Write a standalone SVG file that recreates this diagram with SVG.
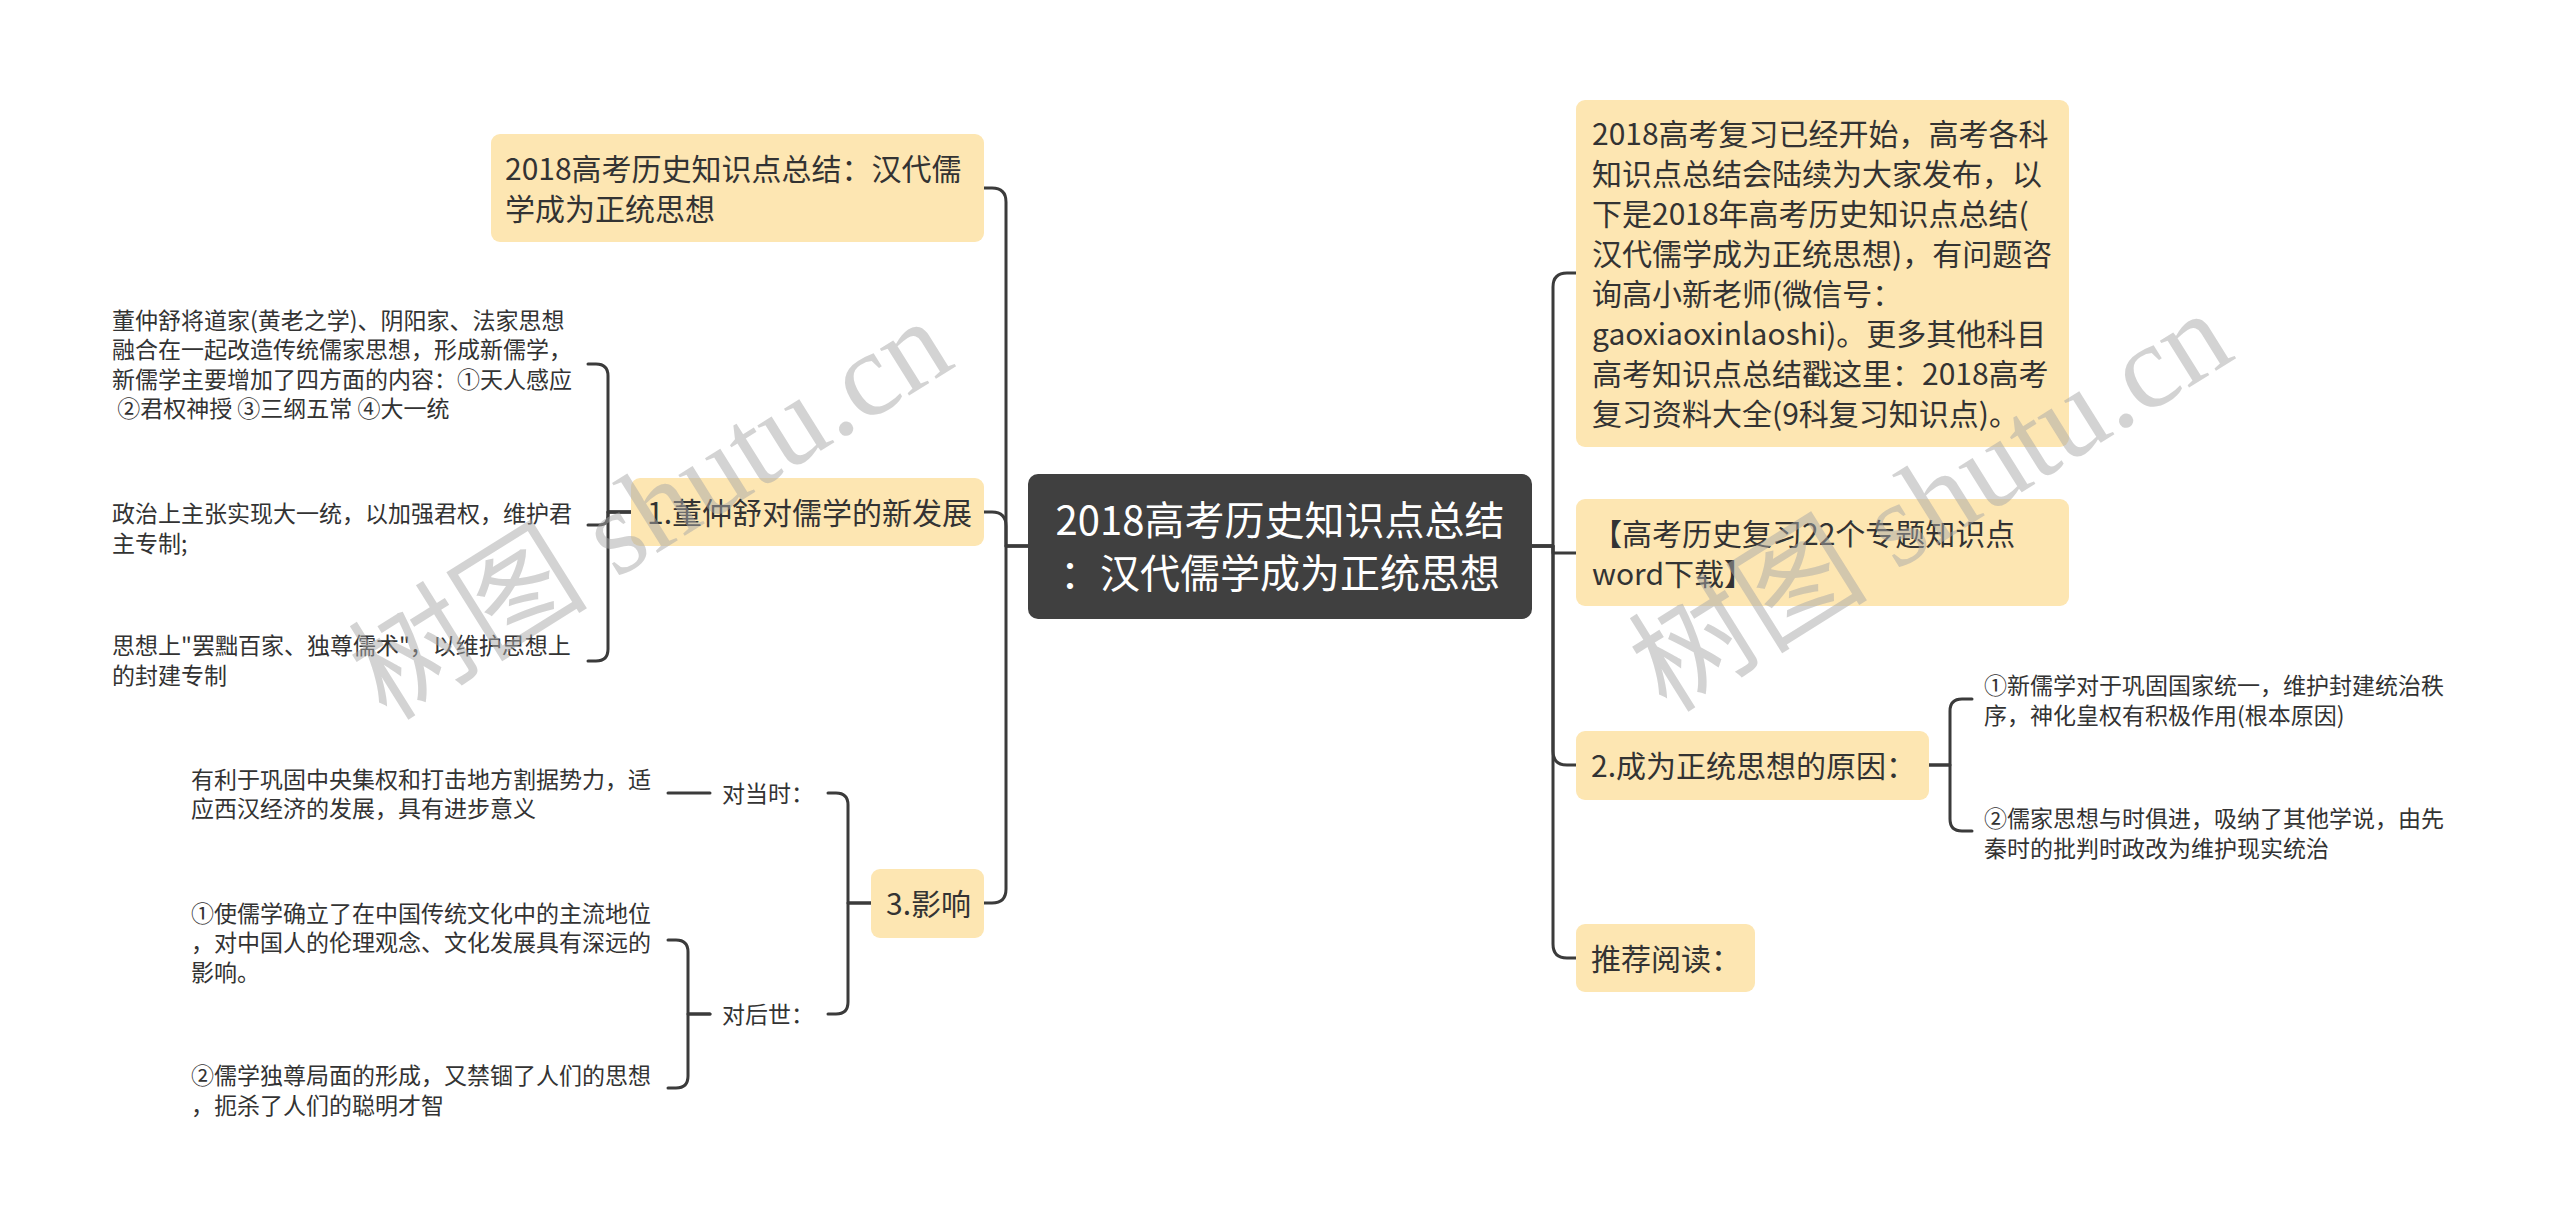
<svg xmlns="http://www.w3.org/2000/svg" width="2560" height="1230" viewBox="0 0 2560 1230">
<style>
  .bg { fill:#ffffff; }
  .box { fill:#fde6b2; }
  .root { fill:#404040; }
  text { font-family:"Noto Sans CJK SC","Liberation Sans",sans-serif; fill:#333333; white-space:pre; }
  .t30 { font-size:30px; }
  .t23 { font-size:23px; }
  .t40 { font-size:40px; fill:#ffffff; }
  .conn path { fill:none; stroke:#3b3b3b; stroke-width:3; stroke-linecap:round; stroke-linejoin:round; }
  .wm { font-family:"Liberation Serif","Noto Sans CJK SC",serif; font-size:120px; fill:#a8a8a8; fill-opacity:0.5; }
</style>
<rect class="bg" x="0" y="0" width="2560" height="1230"/>

<g id="connectors" class="conn">
  <!-- left trunk -->
  <path d="M1028 546 H1006 V202 Q1006 188 992 188 H984"/>
  <path d="M1028 546 H1006 V526 Q1006 512 992 512 H984"/>
  <path d="M1028 546 H1006 V889 Q1006 903 992 903 H984"/>
  <!-- right trunk -->
  <path d="M1532 546 H1553 V287 Q1553 273 1567 273 H1576"/>
  <path d="M1532 546 H1553 V553 H1576"/>
  <path d="M1532 546 H1553 V751 Q1553 765 1567 765 H1576"/>
  <path d="M1532 546 H1553 V944 Q1553 958 1567 958 H1576"/>
  <!-- node 1 bracket -->
  <path d="M631 512 H608 V376 Q608 364 596 364 H588"/>
  <path d="M631 512 H608 V516 Q608 525 599 525 H588"/>
  <path d="M631 512 H608 V649 Q608 661 596 661 H588"/>
  <!-- node 3 bracket -->
  <path d="M871 903 H848 V805 Q848 793 836 793 H828"/>
  <path d="M871 903 H848 V1002 Q848 1014 836 1014 H828"/>
  <path d="M710 793 H668"/>
  <path d="M710 1014 H688 V952 Q688 940 676 940 H668"/>
  <path d="M710 1014 H688 V1076 Q688 1088 676 1088 H668"/>
  <!-- node 2 bracket -->
  <path d="M1929 765 H1950 V711 Q1950 699 1962 699 H1972"/>
  <path d="M1929 765 H1950 V819 Q1950 831 1962 831 H1972"/>
</g>

<g id="root">
  <rect class="root" x="1028" y="474" width="504" height="145" rx="10"/>
  <text class="t40" x="1280" y="534.5" text-anchor="middle">2018高考历史知识点总结</text>
  <text class="t40" x="1280" y="587.5" text-anchor="middle">：汉代儒学成为正统思想</text>
</g>

<g id="node-title">
  <rect class="box" x="491" y="134" width="493" height="108" rx="9"/>
  <text class="t30" x="505" y="179.5">2018高考历史知识点总结：汉代儒</text>
  <text class="t30" x="505" y="219.5">学成为正统思想</text>
</g>

<g id="node-1">
  <rect class="box" x="631" y="478" width="353" height="68" rx="9"/>
  <text class="t30" x="647" y="523.5">1.董仲舒对儒学的新发展</text>
</g>
<g id="node-1-a">
  <text class="t23" x="112" y="328.5">董仲舒将道家(黄老之学)、阴阳家、法家思想</text>
  <text class="t23" x="112" y="358">融合在一起改造传统儒家思想，形成新儒学，</text>
  <text class="t23" x="112" y="387.5">新儒学主要增加了四方面的内容：①天人感应</text>
  <text class="t23" x="112" y="417"> ②君权神授 ③三纲五常 ④大一统</text>
</g>
<g id="node-1-b">
  <text class="t23" x="112" y="522">政治上主张实现大一统，以加强君权，维护君</text>
  <text class="t23" x="112" y="551.5">主专制;</text>
</g>
<g id="node-1-c">
  <text class="t23" x="112" y="654">思想上"罢黜百家、独尊儒术"，以维护思想上</text>
  <text class="t23" x="112" y="683.5">的封建专制</text>
</g>

<g id="node-3">
  <rect class="box" x="871" y="869" width="113" height="69" rx="9"/>
  <text class="t30" x="886" y="914.5">3.影响</text>
</g>
<g id="node-3-a">
  <text class="t23" x="722" y="801.5">对当时：</text>
</g>
<g id="node-3-a-1">
  <text class="t23" x="191" y="787.5">有利于巩固中央集权和打击地方割据势力，适</text>
  <text class="t23" x="191" y="817">应西汉经济的发展，具有进步意义</text>
</g>
<g id="node-3-b">
  <text class="t23" x="722" y="1022.5">对后世：</text>
</g>
<g id="node-3-b-1">
  <text class="t23" x="191" y="921.5">①使儒学确立了在中国传统文化中的主流地位</text>
  <text class="t23" x="191" y="951">，对中国人的伦理观念、文化发展具有深远的</text>
  <text class="t23" x="191" y="980.5">影响。</text>
</g>
<g id="node-3-b-2">
  <text class="t23" x="191" y="1084">②儒学独尊局面的形成，又禁锢了人们的思想</text>
  <text class="t23" x="191" y="1113.5">，扼杀了人们的聪明才智</text>
</g>

<g id="node-intro">
  <rect class="box" x="1576" y="100" width="493" height="347" rx="9"/>
  <text class="t30" x="1592" y="145">2018高考复习已经开始，高考各科</text>
  <text class="t30" x="1592" y="185">知识点总结会陆续为大家发布，以</text>
  <text class="t30" x="1592" y="225">下是2018年高考历史知识点总结(</text>
  <text class="t30" x="1592" y="265">汉代儒学成为正统思想)，有问题咨</text>
  <text class="t30" x="1592" y="305">询高小新老师(微信号：</text>
  <text class="t30" x="1592" y="345">gaoxiaoxinlaoshi)。更多其他科目</text>
  <text class="t30" x="1592" y="385">高考知识点总结戳这里：2018高考</text>
  <text class="t30" x="1592" y="425">复习资料大全(9科复习知识点)。</text>
</g>

<g id="node-download">
  <rect class="box" x="1576" y="499" width="493" height="107" rx="9"/>
  <text class="t30" x="1592" y="544.5">【高考历史复习22个专题知识点</text>
  <text class="t30" x="1592" y="584.5">word下载】</text>
</g>

<g id="node-2">
  <rect class="box" x="1576" y="731" width="353" height="69" rx="9"/>
  <text class="t30" x="1591" y="776.5">2.成为正统思想的原因：</text>
</g>
<g id="node-2-a">
  <text class="t23" x="1984" y="693.5">①新儒学对于巩固国家统一，维护封建统治秩</text>
  <text class="t23" x="1984" y="723.5">序，神化皇权有积极作用(根本原因)</text>
</g>
<g id="node-2-b">
  <text class="t23" x="1984" y="826.5">②儒家思想与时俱进，吸纳了其他学说，由先</text>
  <text class="t23" x="1984" y="856.5">秦时的批判时政改为维护现实统治</text>
</g>

<g id="node-read">
  <rect class="box" x="1576" y="924" width="179" height="68" rx="9"/>
  <text class="t30" x="1591" y="969.5">推荐阅读：</text>
</g>

<g id="watermarks">
  <text class="wm" transform="translate(650,508) rotate(-32)" x="0" y="42" text-anchor="middle">树图 shutu.cn</text>
  <text class="wm" transform="translate(1930,500) rotate(-32)" x="0" y="42" text-anchor="middle">树图 shutu.cn</text>
</g>
</svg>
